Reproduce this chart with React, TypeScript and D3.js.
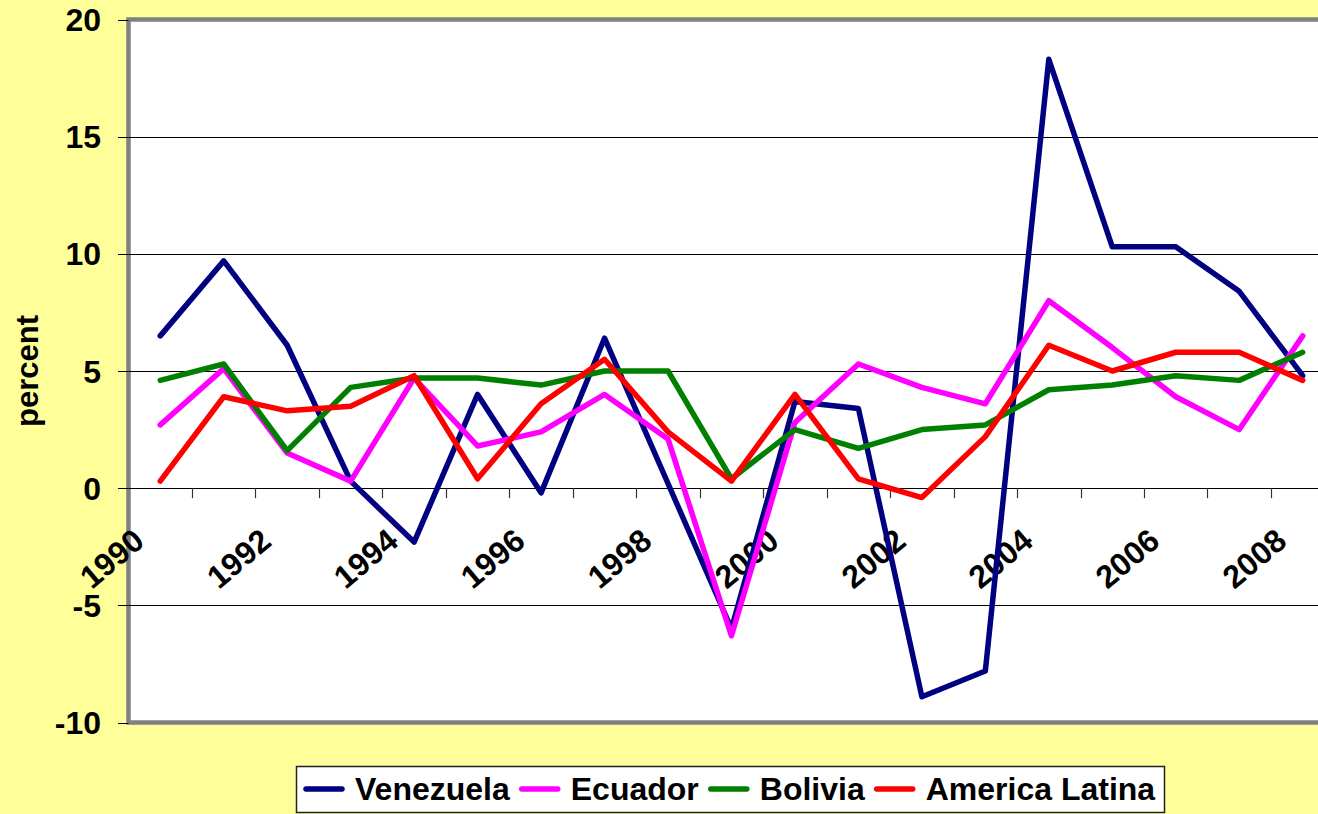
import React from "react";
import * as d3 from "d3";

const years = d3.range(1990, 2009).map(String);
const venezuela = [6.5, 9.7, 6.1, 0.3, -2.3, 4.0, -0.2, 6.4, 0.2, -6.0, 3.7, 3.4, -8.9, -7.8, 18.3, 10.3, 10.3, 8.4, 4.8];
const ecuador = [2.7, 5.1, 1.5, 0.3, 4.7, 1.8, 2.4, 4.0, 2.1, -6.3, 2.8, 5.3, 4.3, 3.6, 8.0, 6.0, 3.9, 2.5, 6.5];
const bolivia = [4.6, 5.3, 1.6, 4.3, 4.7, 4.7, 4.4, 5.0, 5.0, 0.4, 2.5, 1.7, 2.5, 2.7, 4.2, 4.4, 4.8, 4.6, 5.8];
const latina = [0.3, 3.9, 3.3, 3.5, 4.8, 0.4, 3.6, 5.5, 2.4, 0.3, 4.0, 0.4, -0.4, 2.2, 6.1, 5.0, 5.8, 5.8, 4.6];
const yTicks = [-10, -5, 0, 5, 10, 15, 20];
const seriesNames = ["Venezuela", "Ecuador", "Bolivia", "America Latina"];
const seriesColors = ["#000080", "#FF00FF", "#008000", "#FF0000"];
const seriesData = [venezuela, ecuador, bolivia, latina];

const W = 1318;
const H = 814;
const FONT = "'Liberation Sans', Arial, sans-serif";

function measure(text: string, size: number) {
  const c = document.createElement("canvas").getContext("2d");
  if (!c) return text.length * size * 0.55;
  c.font = `bold ${size}px 'Liberation Sans', Arial, sans-serif`;
  return c.measureText(text).width;
}

export default function App() {
  const left = 128.5;
  const band = 63.47;
  const top = 19.5;
  const bottom = 722.5;
  const x = d3.scaleBand<string>().domain(years).range([left, left + band * years.length]);
  const y = d3.scaleLinear().domain([-10, 20]).range([bottom, top]);
  const cx = (yr: string) => (x(yr) as number) + x.bandwidth() / 2;
  const line = d3
    .line<number>()
    .x((_, i) => cx(years[i]))
    .y((d) => y(d));

  const legendFont = 32;
  let lx = 306;
  const legendItems = seriesNames.map((name, i) => {
    const start = lx;
    const w = measure(name, legendFont);
    lx = start + 36 + 13 + w + 12;
    return { name, color: seriesColors[i], start };
  });

  const y0 = y(0);
  return (
    <svg width={W} height={H} style={{ position: "absolute", left: 0, top: 0 }} fontFamily={FONT}>
      <rect x={0} y={0} width={W} height={H} fill="#FFFF99" />
      <rect x={left} y={top} width={W + 40 - left} height={bottom - top} fill="#FFFFFF" stroke="#808080" strokeWidth={4.5} />
      {yTicks
        .filter((t) => t !== 0 && t !== -10 && t !== 20)
        .map((t) => (
          <line key={"g" + t} x1={left} x2={W} y1={Math.round(y(t)) + 0.5} y2={Math.round(y(t)) + 0.5} stroke="#000" strokeWidth={1} />
        ))}
      {yTicks.map((t) => (
        <g key={"yt" + t}>
          <line x1={118} x2={left} y1={Math.round(y(t)) + 0.5} y2={Math.round(y(t)) + 0.5} stroke="#000" strokeWidth={1} />
          <text x={101} y={y(t)} dy="0.36em" textAnchor="end" fontSize={32} fontWeight="bold" fill="#000">
            {t}
          </text>
        </g>
      ))}
      <line x1={left} x2={W} y1={Math.round(y0) + 0.5} y2={Math.round(y0) + 0.5} stroke="#000" strokeWidth={1.2} />
      {years.slice(1).map((yr) => (
        <line key={"xt" + yr} x1={Math.round(x(yr) as number) + 0.5} x2={Math.round(x(yr) as number) + 0.5} y1={y0} y2={y0 + 10} stroke="#333" strokeWidth={1.2} />
      ))}
      {years
        .filter((_, i) => i % 2 === 0)
        .map((yr) => (
          <text
            key={"xl" + yr}
            transform={`translate(${cx(yr) - 14},${y0 + 56}) rotate(-40)`}
            textAnchor="end"
            fontSize={32}
            fontWeight="bold"
            fill="#000"
          >
            {yr}
          </text>
        ))}
      {seriesData.map((d, i) => (
        <path key={"s" + i} d={line(d) || ""} fill="none" stroke={seriesColors[i]} strokeWidth={5.5} strokeLinejoin="round" strokeLinecap="round" />
      ))}
      <text transform={`translate(38,${(top + bottom) / 2}) rotate(-90)`} textAnchor="middle" fontSize={31} fontWeight="bold" fill="#000">
        percent
      </text>
      <rect x={296.5} y={766.5} width={868} height={46} fill="#FFFFFF" stroke="#222" strokeWidth={1.5} />
      {legendItems.map((it) => (
        <g key={it.name}>
          <line x1={it.start} x2={it.start + 36} y1={789} y2={789} stroke={it.color} strokeWidth={5.5} strokeLinecap="round" />
          <text x={it.start + 36 + 13} y={800} fontSize={legendFont} fontWeight="bold" fill="#000">
            {it.name}
          </text>
        </g>
      ))}
    </svg>
  );
}
